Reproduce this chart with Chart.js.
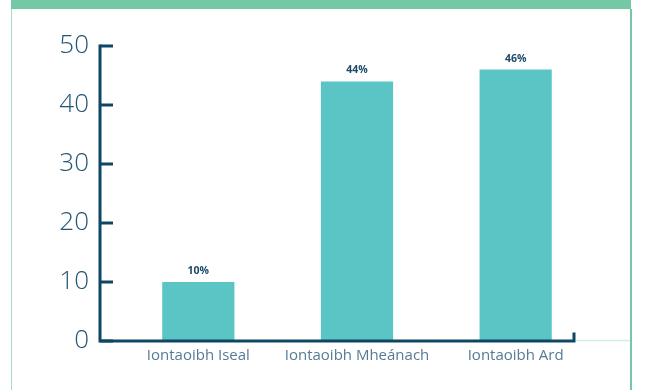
<!DOCTYPE html>
<html>
<head>
<meta charset="utf-8">
<script src="https://cdn.jsdelivr.net/npm/chart.js@4/dist/chart.umd.min.js"></script>
<style>
  html, body { margin: 0; padding: 0; background: #ffffff; }
  #wrap { position: relative; width: 649px; height: 390px; overflow: hidden; }
  .band { position: absolute; left: 11px; top: 0; width: 620px; height: 9px; background: #74c8a6; }
  .edge-l { position: absolute; left: 11px; top: 9px; width: 1px; height: 381px; background: #a3dcc4; }
  .edge-r { position: absolute; left: 630px; top: 9px; width: 2px; height: 381px; background: #74c8a6; }
  canvas { position: absolute; left: 0; top: 0; }
</style>
</head>
<body>
<div id="wrap">
  <div class="band"></div>
  <div class="edge-l"></div>
  <div class="edge-r"></div>
  <canvas id="c" width="649" height="390"></canvas>
</div>
<script>
// Trust levels and the share of respondents in each
const categories = ['Iontaoibh Iseal', 'Iontaoibh Mheánach', 'Iontaoibh Ard'];
const shares = [10, 44, 46];
const yTicks = [0, 10, 20, 30, 40, 50];

const NAVY = '#0e4665';
const TEAL = '#5bc5c5';
const AXIS_X = 100;      // where the value axis line sits
const AXIS_END = 574;    // where the category axis line stops

// Axis lines with short inward tick marks, an end cap on the category axis,
// and a faint line running on to the card edge
const axisMarks = {
  id: 'axisMarks',
  afterDraw(chart) {
    const { ctx, chartArea, scales } = chart;
    const y = scales.y;
    const top = y.getPixelForValue(50);
    const base = y.getPixelForValue(0);
    ctx.save();
    ctx.strokeStyle = NAVY;
    ctx.lineWidth = 3;
    ctx.lineCap = 'square';
    ctx.beginPath();
    ctx.moveTo(AXIS_X, top);
    ctx.lineTo(AXIS_X, base);
    ctx.lineTo(AXIS_END, base);
    ctx.lineTo(AXIS_END, base - 7);
    ctx.stroke();
    ctx.lineCap = 'butt';
    yTicks.forEach(v => {
      const py = y.getPixelForValue(v);
      ctx.beginPath();
      ctx.moveTo(AXIS_X, py);
      ctx.lineTo(AXIS_X + 13, py);
      ctx.stroke();
    });
    ctx.strokeStyle = '#c9ecec';
    ctx.lineWidth = 1.5;
    ctx.beginPath();
    ctx.moveTo(AXIS_END + 2, base - 0.5);
    ctx.lineTo(630, base - 0.5);
    ctx.stroke();
    ctx.restore();
  }
};

// Percentage labels above each bar
const valueLabels = {
  id: 'valueLabels',
  afterDatasetsDraw(chart) {
    const { ctx } = chart;
    const meta = chart.getDatasetMeta(0);
    ctx.save();
    ctx.font = 'bold 10.5px "Open Sans"';
    ctx.fillStyle = '#1b4a68';
    ctx.textAlign = 'center';
    ctx.textBaseline = 'middle';
    meta.data.forEach((bar, i) => {
      ctx.fillText(shares[i] + '%', bar.x, bar.y - 11);
    });
    ctx.restore();
  }
};

new Chart(document.getElementById('c'), {
  type: 'bar',
  data: {
    labels: categories,
    datasets: [{
      data: shares,
      backgroundColor: TEAL,
      borderWidth: 0,
      categoryPercentage: 1,
      barPercentage: 0.455
    }]
  },
  options: {
    responsive: false,
    animation: false,
    layout: { padding: { top: 46, right: 54, bottom: 0, left: 0 } },
    plugins: { legend: { display: false }, tooltip: { enabled: false } },
    scales: {
      x: {
        afterFit(s) { s.height = 49; },
        grid: { display: false, drawTicks: false },
        border: { display: false },
        ticks: {
          padding: 6,
          color: '#557b93',
          font: { family: '"Open Sans"', size: 15 }
        }
      },
      y: {
        min: 0,
        max: 50,
        afterFit(s) { s.width = 119; },
        afterBuildTicks(s) { s.ticks = yTicks.map(v => ({ value: v })); },
        grid: { display: false, drawTicks: false },
        border: { display: false },
        ticks: {
          padding: 30,
          color: '#245574',
          font: { family: '"Open Sans"', size: 26, weight: '300' }
        }
      }
    }
  },
  plugins: [axisMarks, valueLabels]
});
</script>
</body>
</html>
